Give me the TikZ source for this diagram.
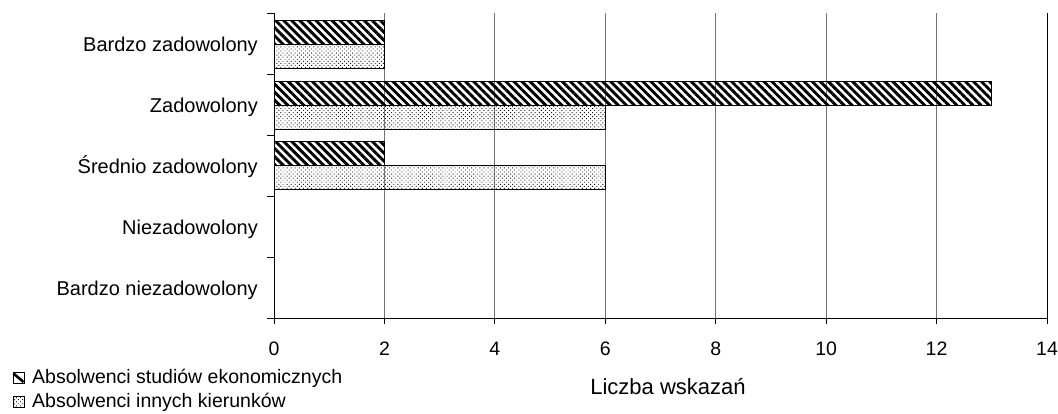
\documentclass[tikz,border=0pt]{standalone}
\usepackage{fontspec}
\setmainfont{Liberation Sans}
\usetikzlibrary{patterns.meta}
\begin{document}
\begin{tikzpicture}[x=1pt,y=-1pt,
  catlabel/.style={font=\fontsize{20}{24}\selectfont, anchor=base east, inner sep=0pt},
  ticklabel/.style={font=\fontsize{19.5}{24}\selectfont, anchor=center, inner sep=0pt},
  legendtext/.style={font=\fontsize{19.5}{24}\selectfont, anchor=base west, inner sep=0pt},
  titletext/.style={font=\fontsize{22}{26}\selectfont, anchor=base, inner sep=0pt},
  gridline/.style={draw=black!55, line width=1pt},
  axisline/.style={draw=black, line width=1pt},
  hatchbar/.style={draw=black, line width=1pt, pattern={Lines[angle=-45,distance=5.7pt,line width=2.9pt]}, pattern color=black},
  dotbar/.style={draw=black, line width=1pt, pattern={Dots[angle=45,distance=2.9pt,radius=0.65pt]}, pattern color=black!90},
]
\useasboundingbox (0,0) rectangle (1058,414);
% grid lines
\foreach \v in {2,4,...,12} {
  \draw[gridline] ({274+55.214*\v},13) -- ({274+55.214*\v},318);
}
\draw[axisline] ({274+55.214*14},13) -- ({274+55.214*14},318);
% bars
\draw[hatchbar] (274,20.4) rectangle ({274+55.214*2},44.4);
\draw[dotbar] (274,44.4) rectangle ({274+55.214*2},68.4);
\draw[hatchbar] (274,81.2) rectangle ({274+55.214*13},105.2);
\draw[dotbar] (274,105.2) rectangle ({274+55.214*6},129.2);
\draw[hatchbar] (274,142) rectangle ({274+55.214*2},166);
\draw[dotbar] (274,166) rectangle ({274+55.214*6},190);
% axes
\draw[axisline] (274,13.5) -- (274,318);
\draw[axisline] (274,318) -- (1047.5,318);
\foreach \t in {14,74.8,135.6,196.4,257.2,318} {
  \draw[axisline] (267,\t) -- (274,\t);
}
\foreach \v in {0,2,...,14} {
  \draw[axisline] ({274+55.214*\v},318) -- ({274+55.214*\v},324);
  \node[ticklabel] (t\v) at ({274+55.214*\v},348.5) {\v};
}
% category labels
\node[catlabel] (c1) at (258,52) {Bardzo zadowolony};
\node[catlabel] (c2) at (258,112.7) {Zadowolony};
\node[catlabel] (c3) at (258,173.5) {Średnio zadowolony};
\node[catlabel] (c4) at (258,234.3) {Niezadowolony};
\node[catlabel] (c5) at (258,295) {Bardzo niezadowolony};
% axis title
\node[titletext] (title) at (668,394) {Liczba wskazań};
% legend
\draw[draw=black, line width=1pt] (13,372.5) rectangle (24,383);
\draw[line width=2.6pt] (13.5,373.5) -- (23.5,382);
\draw[dotbar] (13,396.5) rectangle (24,407);
\node[legendtext] (l1) at (32,383) {Absolwenci studiów ekonomicznych};
\node[legendtext] (l2) at (32,407) {Absolwenci innych kierunków};
\end{tikzpicture}
\end{document}
